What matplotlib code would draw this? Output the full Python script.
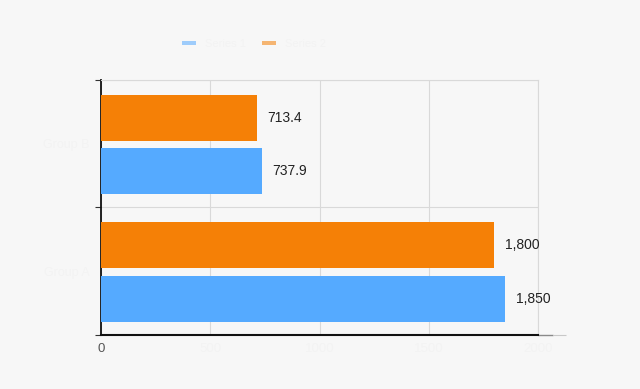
import matplotlib.pyplot as plt
import numpy as np

plt.rcParams['font.family'] = ['Liberation Sans', 'DejaVu Sans']

# Two groups, two series (labels are drawn almost white, as in the source)
categories = ['Group A', 'Group B']
series_names = ['Series 1', 'Series 2']
blue_vals = [1850, 737.9]
orange_vals = [1800, 713.4]
value_labels_blue = ['1,850', '737.9']
value_labels_orange = ['1,800', '713.4']
x_ticks = [0, 500, 1000, 1500, 2000]

blue = '#55aaff'
orange = '#f58006'
bg = '#f7f7f7'
faint = '#f3f3f3'

fig = plt.figure(figsize=(6.4, 3.89), dpi=100, facecolor=bg)
ax = fig.add_axes([101 / 640, 1 - 335 / 389, 437 / 640, 255 / 389])
ax.set_facecolor(bg)

centers = np.arange(len(categories)) + 0.5
h = 0.36
ax.barh(centers - 0.215, blue_vals, height=h, color=blue, label=series_names[0], zorder=3)
ax.barh(centers + 0.205, orange_vals, height=h, color=orange, label=series_names[1], zorder=3)

for c, v, t in zip(centers, blue_vals, value_labels_blue):
    ax.annotate(t, (v, c - 0.215), xytext=(7.5, 0), textcoords='offset points',
                va='center', ha='left', fontsize=10, color='#222222')
for c, v, t in zip(centers, orange_vals, value_labels_orange):
    ax.annotate(t, (v, c + 0.205), xytext=(7.5, 0), textcoords='offset points',
                va='center', ha='left', fontsize=10, color='#222222')

ax.set_xlim(0, 2000)
ax.set_ylim(0, 2)
ax.set_xticks(x_ticks)
ax.set_xticklabels([str(x) for x in x_ticks])
for i, lab in enumerate(ax.get_xticklabels()):
    lab.set_color('#555555' if i == 0 else faint)
    lab.set_fontsize(9.5)
ax.tick_params(axis='x', length=0, pad=6)

ax.set_yticks([0, 1, 2])
ax.set_yticklabels([])
ax.set_yticks(centers, minor=True)
ax.set_yticklabels(categories, minor=True, color=faint, fontsize=9)
ax.tick_params(axis='y', which='major', length=4, color='#333333', direction='out')
ax.tick_params(axis='y', which='minor', length=0, pad=8)

ax.grid(True, which='major', color='#d9d9d9', linewidth=0.8, zorder=0)

for s in ['top', 'right']:
    ax.spines[s].set_color('#d9d9d9')
    ax.spines[s].set_linewidth(0.8)
ax.spines['left'].set_color('#111111')
ax.spines['left'].set_linewidth(1.3)
ax.spines['bottom'].set_color('#111111')
ax.spines['bottom'].set_linewidth(1.5)

# soft shadow continuing the bottom axis line
ax.plot([1.0, 1.035], [0, 0], transform=ax.transAxes, color='#8a8a8a',
        linewidth=1.0, clip_on=False, solid_capstyle='butt')
ax.plot([1.035, 1.065], [0, 0], transform=ax.transAxes, color='#c8c8c8',
        linewidth=0.8, clip_on=False, solid_capstyle='butt')

leg = fig.legend(loc='upper left', bbox_to_anchor=(172 / 640, 1 - 29 / 389), ncol=2,
                 frameon=False, fontsize=8, handlelength=1.25, handleheight=0.25,
                 handletextpad=0.8, columnspacing=1.5, labelcolor=faint)
for hnd in leg.legend_handles:
    hnd.set_alpha(0.55)

plt.savefig('out.png', dpi=100, facecolor=bg)
